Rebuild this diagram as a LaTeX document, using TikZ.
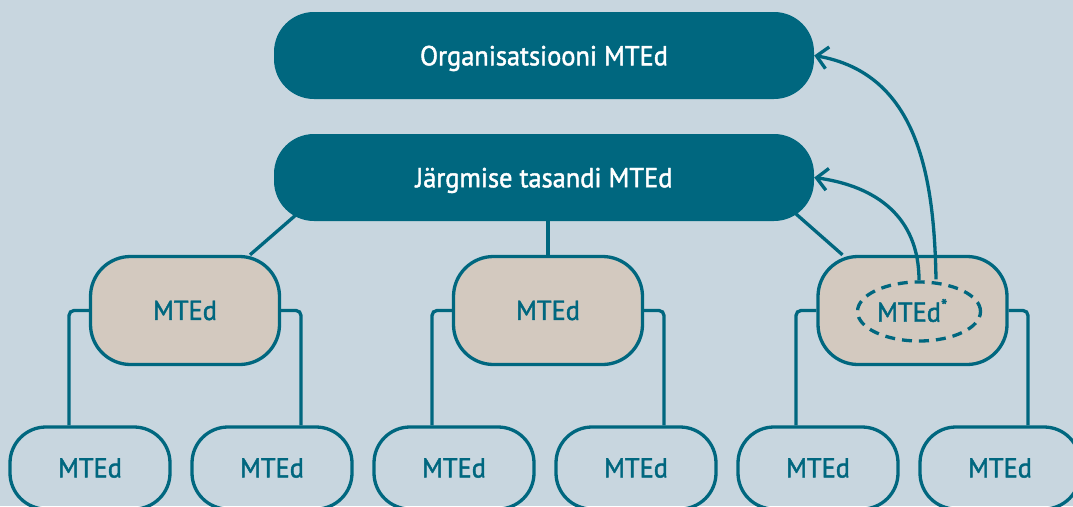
\documentclass[tikz,border=0pt]{standalone}
\usepackage{fontspec}
\setmainfont{PT Sans}[FakeBold=1.6,FakeStretch=0.96]
\usetikzlibrary{arrows.meta,shapes.geometric}
\definecolor{mteal}{HTML}{00677F}
\definecolor{bgc}{HTML}{C8D6DF}
\definecolor{beige}{HTML}{D3C9BF}
\pgfdeclarelayer{back}
\pgfsetlayers{back,main}
\begin{document}
\begin{tikzpicture}[x=1pt,y=-1pt,
  lbl/.style={font=\fontsize{27.5}{30}\selectfont},
  darkbox/.style={rectangle,rounded corners=40pt,minimum width=540pt,minimum height=87pt,inner sep=0pt,fill=mteal,text=white,text depth=0pt,lbl},
  midbox/.style={rectangle,rounded corners=40pt,minimum width=189pt,minimum height=108pt,inner sep=0pt,draw=mteal,line width=3.3pt,fill=beige,text=mteal,lbl},
  lowbox/.style={rectangle,rounded corners=36pt,minimum width=160pt,minimum height=82pt,inner sep=0pt,draw=mteal,line width=3.3pt,text=mteal,lbl},
  conn/.style={draw=mteal,line width=3.3pt,rounded corners=5pt},
  arr/.style={draw=mteal,line width=3.3pt,-{Straight Barb[length=11pt,width=22pt]}},
  dashell/.style={ellipse,draw=mteal,line width=3.3pt,dash pattern=on 10pt off 7pt,minimum width=123pt,minimum height=59pt,inner sep=0pt}
]
\begin{pgfonlayer}{back}
\fill[bgc] (0,0) rectangle (1073,506);
\end{pgfonlayer}
\useasboundingbox (0,0) rectangle (1073,506);

\node[darkbox] (o) at (544,55.5) {Organisatsiooni MTEd};
\node[darkbox] (j) at (544,177.5) {Järgmise tasandi MTEd};

\node[midbox] (m1) at (185,310.5) {MTEd};
\node[midbox] (m2) at (548,310.5) {MTEd};
\node[midbox] (m3) at (912.5,310.5) {MTEd\textsuperscript{*}};
\node[dashell] (el) at (919,311.5) {};

\node[lowbox] (b1) at (90,468) {MTEd};
\node[lowbox] (b2) at (272,468) {MTEd};
\node[lowbox] (b3) at (454,468) {MTEd};
\node[lowbox] (b4) at (636,468) {MTEd};
\node[lowbox] (b5) at (818,468) {MTEd};
\node[lowbox] (b6) at (1000,468) {MTEd};

\begin{pgfonlayer}{back}
\draw[conn] ([xshift=31pt,yshift=14pt]j.south west) -- ([xshift=65pt]m1.north);
\draw[conn] (m2.north |- j.south) -- (m2.north);
\draw[conn] ([xshift=-27pt,yshift=15pt]j.south east) -- ([xshift=-70pt]m3.north);
\draw[conn] (m1.west) -| ([xshift=-21pt]b1.north);
\draw[conn] (m1.east) -| ([xshift=29pt]b2.north);
\draw[conn] (m2.west) -| ([xshift=-22pt]b3.north);
\draw[conn] (m2.east) -| ([xshift=28pt]b4.north);
\draw[conn] (m3.west) -| ([xshift=-22pt]b5.north);
\draw[conn] (m3.east) -| ([xshift=28pt]b6.north);
\end{pgfonlayer}

\draw[arr] (el.north) to[out=90,in=-8,looseness=1.1] (j.east);
\draw[arr] ([xshift=17pt,yshift=1pt]el.north) to[out=91,in=-10,looseness=1.05] (o.east);
\end{tikzpicture}
\end{document}
